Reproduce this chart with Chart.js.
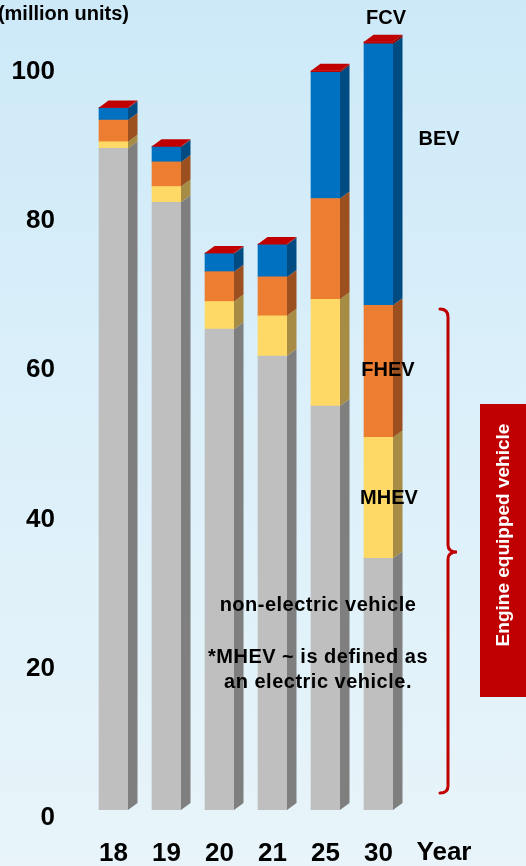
<!DOCTYPE html>
<html>
<head>
<meta charset="utf-8">
<script src="https://cdn.jsdelivr.net/npm/chart.js@4"></script>
<style>
  html, body { margin: 0; padding: 0; }
  body {
    width: 526px; height: 866px; overflow: hidden;
    background: linear-gradient(to bottom, #cde9f8 0%, #dcf0fa 50%, #e8f4f9 100%);
  }
  canvas { display: block; }
</style>
</head>
<body>
<canvas id="salesChart" width="526" height="866"></canvas>
<script>
// years and units (million)
const years = ['18', '19', '20', '21', '25', '30'];
const nonElectric = [88.6, 81.4, 64.4, 60.8, 54.1, 33.7];
const mhev = [0.9, 2.1, 3.7, 5.4, 14.3, 16.2];
const fhev = [2.9, 3.3, 4.0, 5.2, 13.5, 17.7];
const bev = [1.6, 2.0, 2.4, 4.3, 16.9, 35.0];
const fcv = [0.1, 0.1, 0.1, 0.1, 0.2, 0.3];
const yTicks = [0, 20, 40, 60, 80, 100];

const fronts = ['#bfbfbf', '#ffd966', '#ed7d31', '#0070c0', '#c00000'];
const sides = ['#7f7f7f', '#a68c45', '#9c4f1f', '#004c82', '#8a0000'];
const topRed = '#c00000';
const depthX = 9.5, depthY = 7;

const bar3d = {
    id: 'bar3d',
    afterDatasetsDraw(chart) {
        const ctx = chart.ctx;
        const n = chart.data.datasets.length;
        ctx.save();
        chart.data.datasets.forEach((ds, di) => {
            const meta = chart.getDatasetMeta(di);
            meta.data.forEach(bar => {
                const p = bar.getProps(['x', 'y', 'base', 'width'], true);
                const l = p.x - p.width / 2, r = p.x + p.width / 2;
                ctx.fillStyle = sides[di];
                ctx.beginPath();
                ctx.moveTo(r, p.y);
                ctx.lineTo(r + depthX, p.y - depthY);
                ctx.lineTo(r + depthX, p.base - depthY);
                ctx.lineTo(r, p.base);
                ctx.closePath();
                ctx.fill();
                if (di === n - 1) {
                    ctx.fillStyle = topRed;
                    ctx.beginPath();
                    ctx.moveTo(l, p.y);
                    ctx.lineTo(l + depthX, p.y - depthY);
                    ctx.lineTo(r + depthX, p.y - depthY);
                    ctx.lineTo(r, p.y);
                    ctx.closePath();
                    ctx.fill();
                }
            });
        });
        ctx.restore();
    },
    afterDraw(chart) {
        const ctx = chart.ctx;
        ctx.save();
        ctx.fillStyle = '#000';
        ctx.textBaseline = 'middle';
        ctx.font = "bold 20px 'Liberation Sans', Arial, sans-serif";
        ctx.textAlign = 'right';
        ctx.fillText('(million units)', 129, 14);
        ctx.textAlign = 'center';
        ctx.fillText('FCV', 386, 18);
        ctx.fillText('BEV', 439, 139);
        ctx.fillText('FHEV', 388, 370);
        ctx.fillText('MHEV', 389, 498);
        ctx.letterSpacing = '0.5px';
        ctx.fillText('non-electric vehicle', 318, 605);
        ctx.fillText('*MHEV ~ is defined as', 318, 657);
        ctx.fillText('an electric vehicle.', 318, 682);
        ctx.letterSpacing = '0px';
        ctx.font = "bold 26px 'Liberation Sans', Arial, sans-serif";
        ctx.fillText('Year', 444, 853);

        // brace
        ctx.strokeStyle = '#c00000';
        ctx.lineWidth = 3;
        ctx.lineCap = 'round';
        ctx.beginPath();
        ctx.moveTo(440, 309);
        ctx.quadraticCurveTo(448, 309, 448, 317);
        ctx.lineTo(448, 545);
        ctx.quadraticCurveTo(448, 552, 457, 552);
        ctx.quadraticCurveTo(448, 552, 448, 559);
        ctx.lineTo(448, 786);
        ctx.quadraticCurveTo(448, 793, 440, 793);
        ctx.stroke();

        // red label box
        ctx.fillStyle = '#c00000';
        ctx.fillRect(480, 404, 46, 293);
        ctx.translate(504, 535);
        ctx.rotate(-Math.PI / 2);
        ctx.fillStyle = '#fff';
        ctx.font = "bold 19px 'Liberation Sans', Arial, sans-serif";
        ctx.fillText('Engine equipped vehicle', 0, 0);
        ctx.restore();
    }
};

const seriesNames = ['non-electric vehicle', 'MHEV', 'FHEV', 'BEV', 'FCV'];
const seriesData = [nonElectric, mhev, fhev, bev, fcv];

new Chart(document.getElementById('salesChart'), {
    type: 'bar',
    data: {
        labels: years,
        datasets: seriesData.map((values, i) => ({
            label: seriesNames[i],
            data: values,
            backgroundColor: fronts[i],
            borderWidth: 0,
            barThickness: 29
        }))
    },
    options: {
        responsive: false,
        animation: false,
        layout: { padding: { top: 26, right: 121, bottom: 0, left: 0 } },
        plugins: { legend: { display: false }, tooltip: { enabled: false } },
        scales: {
            x: {
                stacked: true,
                grid: { display: false, drawTicks: false },
                border: { display: false },
                ticks: {
                    color: '#000',
                    padding: 28,
                    font: { size: 26, weight: 'bold', family: "'Liberation Sans', Arial, sans-serif" }
                },
                afterFit(scale) { scale.height = 56; }
            },
            y: {
                stacked: true,
                min: 0,
                max: 105,
                grid: { display: false, drawTicks: false },
                border: { display: false },
                afterBuildTicks(scale) { scale.ticks = yTicks.map(v => ({ value: v })); },
                ticks: {
                    color: '#000',
                    padding: 32,
                    labelOffset: 8,
                    font: { size: 26, weight: 'bold', family: "'Liberation Sans', Arial, sans-serif" }
                },
                afterFit(scale) {
                    scale.width = 87;
                    scale.paddingTop = 0;
                    scale.paddingBottom = 0;
                }
            }
        }
    },
    plugins: [bar3d]
});
</script>
</body>
</html>
